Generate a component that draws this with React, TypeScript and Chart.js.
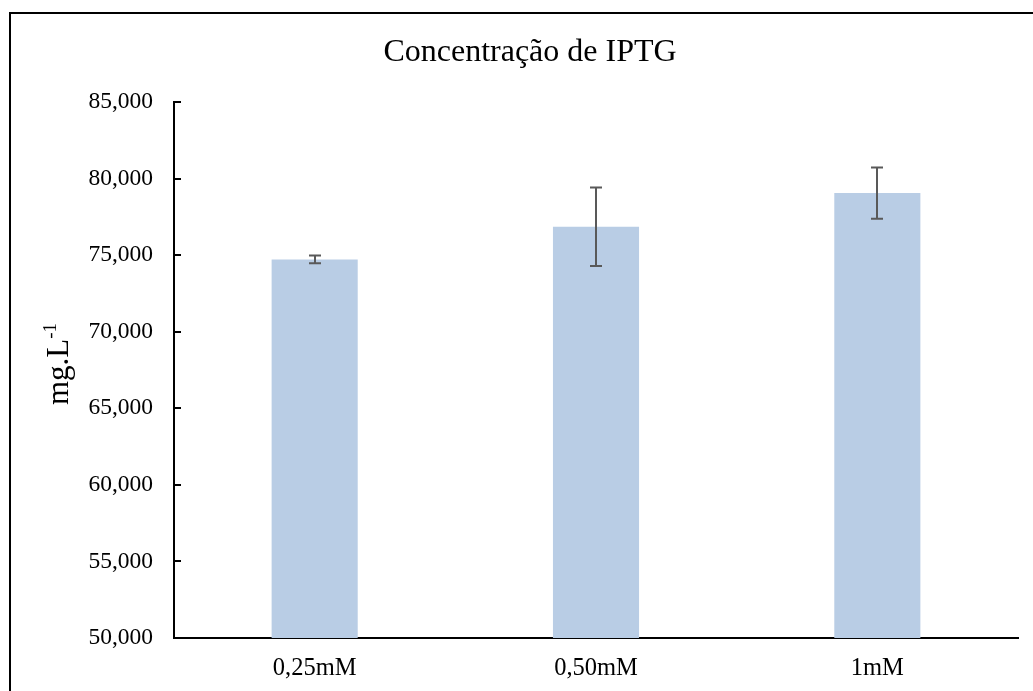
import React, { useEffect, useRef } from "react";
import { Chart, registerables } from "chart.js";

Chart.register(...registerables);

const categories: string[] = ["0,25mM", "0,50mM", "1mM"];
const means: number[] = [74720, 76850, 79050];
const errors: number[] = [250, 2560, 1680];
const yMin = 50000;
const yMax = 85000;
const yStep = 5000;
const titleText = "Concentração de IPTG";
const yTitleMain = "mg.L";
const yTitleSup = "-1";

const SERIF = '"Liberation Serif", "Times New Roman", serif';

const decorPlugin = {
  id: "decor",
  afterDatasetsDraw(chart: any) {
    const { ctx } = chart;
    const yScale = chart.scales.y;
    const meta = chart.getDatasetMeta(0);
    ctx.save();
    ctx.strokeStyle = "#595959";
    ctx.lineWidth = 2;
    meta.data.forEach((bar: any, i: number) => {
      const x = Math.round(bar.x);
      const top = yScale.getPixelForValue(means[i] + errors[i]);
      const bot = yScale.getPixelForValue(means[i] - errors[i]);
      ctx.beginPath();
      ctx.moveTo(x, top);
      ctx.lineTo(x, bot);
      ctx.moveTo(x - 6, top);
      ctx.lineTo(x + 6, top);
      ctx.moveTo(x - 6, bot);
      ctx.lineTo(x + 6, bot);
      ctx.stroke();
    });
    ctx.restore();
  },
  afterDraw(chart: any) {
    const { ctx, chartArea } = chart;
    const yScale = chart.scales.y;
    ctx.save();
    // inward tick marks on y axis
    ctx.strokeStyle = "#000";
    ctx.lineWidth = 2;
    yScale.ticks.forEach((t: any) => {
      const py = Math.round(yScale.getPixelForValue(t.value));
      ctx.beginPath();
      ctx.moveTo(chartArea.left, py);
      ctx.lineTo(chartArea.left + 7, py);
      ctx.stroke();
    });
    // title
    ctx.fillStyle = "#000";
    ctx.font = `32px ${SERIF}`;
    ctx.textAlign = "center";
    ctx.textBaseline = "alphabetic";
    ctx.fillText(titleText, 530, 61);
    // y axis title with superscript
    const cy = 364;
    ctx.translate(68, cy);
    ctx.rotate(-Math.PI / 2);
    ctx.font = `31px ${SERIF}`;
    const mainW = ctx.measureText(yTitleMain).width;
    ctx.font = `19px ${SERIF}`;
    const supW = ctx.measureText(yTitleSup).width;
    const total = mainW + supW;
    ctx.textAlign = "left";
    ctx.font = `31px ${SERIF}`;
    ctx.fillText(yTitleMain, -total / 2, 0);
    ctx.font = `19px ${SERIF}`;
    ctx.fillText(yTitleSup, -total / 2 + mainW, -12);
    ctx.restore();
  },
};

export default function App() {
  const canvasRef = useRef<HTMLCanvasElement | null>(null);

  useEffect(() => {
    if (!canvasRef.current) return;
    const chart = new Chart(canvasRef.current, {
      type: "bar",
      data: {
        labels: categories,
        datasets: [
          {
            data: means,
            backgroundColor: "#B9CDE5",
            borderWidth: 0,
            categoryPercentage: 1,
            barPercentage: 0.306,
          },
        ],
      },
      options: {
        responsive: false,
        animation: false,
        layout: { padding: { left: 0, right: 15, top: 102, bottom: 0 } },
        plugins: {
          legend: { display: false },
          title: { display: false },
          tooltip: { enabled: false },
        },
        scales: {
          x: {
            z: 1,
            grid: { drawOnChartArea: false, drawTicks: false },
            border: { display: true, color: "#000", width: 2 },
            ticks: {
              color: "#000",
              padding: 16,
              font: { family: SERIF, size: 24.5 },
            },
            afterFit: (s: any) => {
              s.height = 53;
            },
          },
          y: {
            z: 1,
            min: yMin,
            max: yMax,
            grid: { drawOnChartArea: false, drawTicks: false },
            border: { display: true, color: "#000", width: 2 },
            ticks: {
              stepSize: yStep,
              color: "#000",
              padding: 21,
              font: { family: SERIF, size: 23.5 },
              callback: (v: any) => Number(v).toLocaleString("en-US"),
            },
            afterFit: (s: any) => {
              s.width = 174;
            },
          },
        },
      },
      plugins: [decorPlugin],
    });
    return () => chart.destroy();
  }, []);

  return (
    <div
      style={{
        position: "fixed",
        left: 0,
        top: 0,
        width: 1033,
        height: 691,
        overflow: "hidden",
        background: "#fff",
      }}
    >
      <div
        style={{
          position: "absolute",
          left: 9,
          top: 12,
          width: 1100,
          height: 800,
          border: "2px solid #000",
        }}
      />
      <canvas
        ref={canvasRef}
        width={1033}
        height={691}
        style={{ position: "absolute", left: 0, top: 0, width: 1033, height: 691 }}
      />
    </div>
  );
}
